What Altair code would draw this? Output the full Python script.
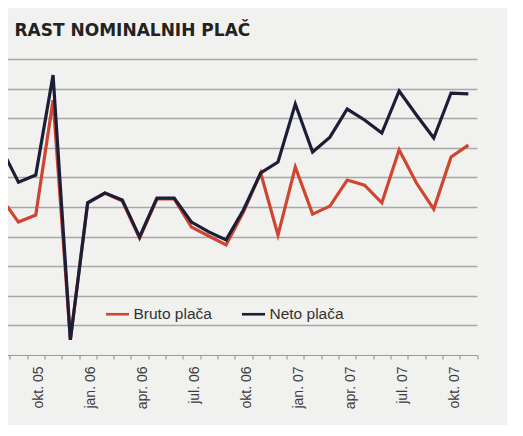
import altair as alt
import pandas as pd

months = ["avg. 05", "sep. 05", "okt. 05", "nov. 05", "dec. 05",
          "jan. 06", "feb. 06", "mar. 06", "apr. 06", "maj. 06", "jun. 06",
          "jul. 06", "avg. 06", "sep. 06", "okt. 06", "nov. 06", "dec. 06",
          "jan. 07", "feb. 07", "mar. 07", "apr. 07", "maj. 07", "jun. 07",
          "jul. 07", "avg. 07", "sep. 07", "okt. 07", "nov. 07"]

bruto = [5.30, 4.49, 4.73, 8.61, 0.51, 5.14, 5.47, 5.20, 3.95, 5.27, 5.27,
         4.32, 4.02, 3.72, 4.83, 6.15, 4.05, 6.35, 4.76, 5.03, 5.91, 5.74,
         5.14, 6.93, 5.81, 4.93, 6.69, 7.09]

neto = [6.99, 5.84, 6.08, 9.46, 0.51, 5.14, 5.47, 5.24, 3.99, 5.30, 5.30,
        4.49, 4.16, 3.89, 4.90, 6.15, 6.52, 8.48, 6.86, 7.36, 8.31, 7.94,
        7.50, 8.92, 8.11, 7.33, 8.85, 8.82]

series_names = ["Bruto plača", "Neto plača"]
series_colors = ["#cf4530", "#1c1d36"]

label_idx = [2, 5, 8, 11, 14, 17, 20, 23, 26]
tick_pos = [i - 0.5 for i in range(len(months) + 1)]
grid_vals = list(range(1, 11))

rows = []
for name, vals in zip(series_names, [bruto, neto]):
    for i, v in enumerate(vals):
        rows.append({"i": i, "mesec": months[i], "serija": name, "rast": v})
df = pd.DataFrame(rows)

label_expr = "[" + ",".join("'%s'" % m for m in months) + "][datum.value]"

xscale = alt.Scale(domain=[-0.5, len(months) - 0.5], nice=False, zero=False)
yscale = alt.Scale(domain=[0, 10], nice=False, zero=True)

color = alt.Color(
    "serija:N",
    scale=alt.Scale(domain=series_names, range=series_colors),
    legend=alt.Legend(
        title=None, orient="none", direction="horizontal",
        legendX=112, legendY=242, symbolType="stroke",
        symbolSize=529, symbolStrokeWidth=2.6, labelOffset=3,
        columnPadding=24, padding=0,
        labelFont="Liberation Sans", labelFontSize=15.5, labelColor="#333333",
    ),
)

yaxis = alt.Axis(title=None, domain=False, labels=False, ticks=False,
                 grid=True, values=grid_vals, gridColor="#a8a8a8",
                 gridWidth=1.3)

bruto_layer = alt.Chart(df).transform_filter(
    alt.datum.serija == series_names[0]
).mark_line(strokeWidth=3.2).encode(
    x=alt.X("i:Q", scale=xscale,
            axis=alt.Axis(title=None, values=label_idx, labelExpr=label_expr,
                          labelAngle=270, labelFont="Liberation Sans",
                          labelFontSize=14, labelColor="#3c3c3c",
                          labelPadding=11, labelOffset=3, ticks=False,
                          domain=False, grid=False, orient="bottom")),
    y=alt.Y("rast:Q", scale=yscale, axis=yaxis),
    color=color,
)

neto_layer = alt.Chart(df).transform_filter(
    alt.datum.serija == series_names[1]
).mark_line(strokeWidth=3.2).encode(
    x=alt.X("i:Q", scale=xscale,
            axis=alt.Axis(title=None, values=tick_pos, labels=False,
                          ticks=True, tickSize=4, tickColor="#8a8a8a",
                          tickWidth=1, domain=True, domainColor="#9a9a9a",
                          domainWidth=1, grid=False, orient="bottom")),
    y=alt.Y("rast:Q", scale=yscale, axis=yaxis),
    color=color,
)

chart = alt.layer(bruto_layer, neto_layer).resolve_axis(
    x="independent"
).properties(
    width=484.5,
    height=296,
    autosize=alt.AutoSizeParams(type="none"),
    padding={"left": -15.5, "top": 51, "right": 30, "bottom": 70},
    background="#f1f1ef",
    title=alt.Title("RAST NOMINALNIH PLAČ", anchor="start", fontSize=17,
                    font="DejaVu Sans", fontWeight="bold", color="#222222",
                    offset=19, dx=22.5),
).configure_view(stroke=None)

chart.save("out.html", embed_options={"renderer": "svg", "actions": False})
